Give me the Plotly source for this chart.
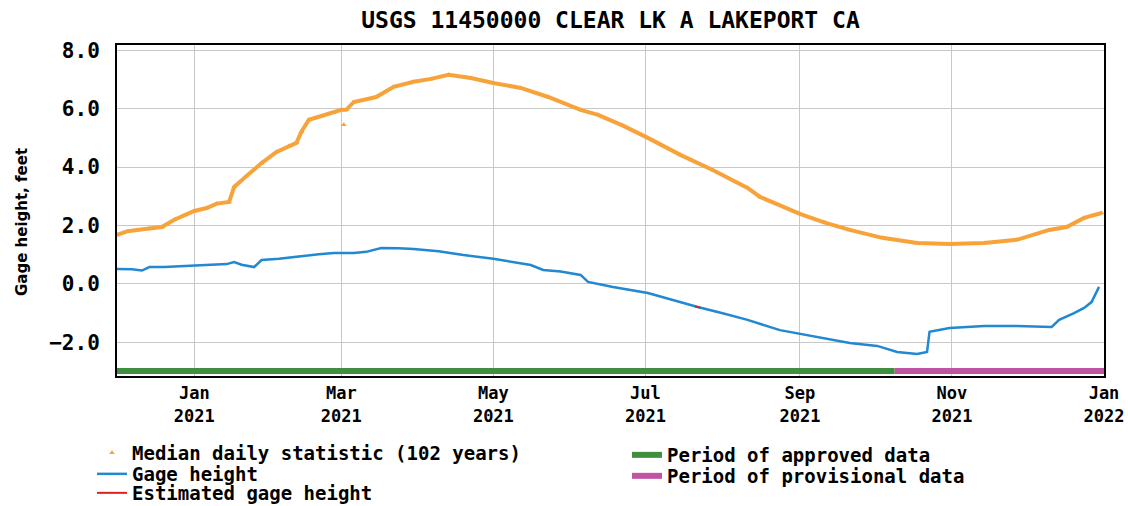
import plotly.graph_objects as go

median_dates = ["2020-12-01","2020-12-05","2020-12-09","2020-12-14","2020-12-19","2020-12-24","2020-12-28",
    "2021-01-01","2021-01-06","2021-01-10","2021-01-15","2021-01-17","2021-01-22","2021-01-28","2021-02-03",
    "2021-02-08","2021-02-11","2021-02-13","2021-02-16","2021-02-21","2021-02-26","2021-03-01","2021-03-02",
    "2021-03-03","2021-03-06","2021-03-15","2021-03-22","2021-03-30","2021-04-06","2021-04-13","2021-04-22",
    "2021-05-01","2021-05-12","2021-05-23","2021-06-05","2021-06-12","2021-06-22","2021-07-02","2021-07-15",
    "2021-07-28","2021-08-11","2021-08-16","2021-09-01","2021-09-11","2021-09-21","2021-10-04","2021-10-18",
    "2021-10-31","2021-11-14","2021-11-27","2021-12-10","2021-12-17","2021-12-24","2021-12-31"]
median_vals = [1.68,1.80,1.85,1.90,1.95,2.20,2.35,
    2.50,2.60,2.75,2.81,3.32,3.70,4.14,4.52,
    4.72,4.83,5.21,5.62,5.75,5.86,5.96,5.45,
    5.96,6.23,6.40,6.75,6.92,7.02,7.16,7.05,
    6.88,6.71,6.40,5.96,5.79,5.42,5.00,4.42,
    3.90,3.29,2.98,2.40,2.10,1.85,1.58,1.40,
    1.37,1.40,1.51,1.85,1.95,2.26,2.43]
median_outlier_date = "2021-03-02"

gage_dates = ["2020-12-01","2020-12-07","2020-12-11","2020-12-14","2020-12-20","2020-12-26","2021-01-01",
    "2021-01-08","2021-01-14","2021-01-17","2021-01-20","2021-01-25","2021-01-28","2021-02-04","2021-02-13",
    "2021-02-20","2021-02-26","2021-03-06","2021-03-11","2021-03-17","2021-03-24","2021-03-30","2021-04-09",
    "2021-04-19","2021-05-01","2021-05-09","2021-05-16","2021-05-21","2021-05-28","2021-06-05","2021-06-08",
    "2021-06-18","2021-07-02","2021-07-12","2021-07-22","2021-08-01","2021-08-11","2021-08-24","2021-09-01",
    "2021-09-11","2021-09-21","2021-10-02","2021-10-10","2021-10-18","2021-10-22","2021-10-23","2021-10-31",
    "2021-11-14","2021-11-27","2021-12-11","2021-12-14","2021-12-20","2021-12-24","2021-12-27","2021-12-30"]
gage_vals = [0.51,0.50,0.46,0.58,0.58,0.60,0.62,
    0.66,0.68,0.75,0.66,0.58,0.82,0.86,0.96,
    1.02,1.06,1.06,1.10,1.23,1.22,1.20,1.12,
    0.99,0.86,0.76,0.65,0.48,0.43,0.31,0.07,
    -0.10,-0.31,-0.55,-0.79,-1.00,-1.23,-1.58,-1.71,
    -1.88,-2.02,-2.12,-2.33,-2.40,-2.33,-1.64,-1.51,
    -1.44,-1.44,-1.47,-1.23,-1.00,-0.82,-0.62,-0.10]

est_dates = ["2021-07-21","2021-07-23"]
est_vals = [-0.77,-0.81]

approved_period = ["2020-11-29","2021-10-09"]
provisional_period = ["2021-10-09","2022-01-01"]
period_level = -2.98

tick_dates = ["2021-01-01","2021-03-01","2021-05-01","2021-07-01","2021-09-01","2021-11-01","2022-01-01"]
tick_text = ["Jan<br>2021","Mar<br>2021","May<br>2021","Jul<br>2021","Sep<br>2021","Nov<br>2021","Jan<br>2022"]
y_ticks = [-2, 0, 2, 4, 6, 8]

ORANGE = "#f7a33a"
BLUE = "#2188d2"
RED = "#e02020"
GREEN = "#3f8f3f"
PURPLE = "#c054a4"
MONO = "DejaVu Sans Mono"

line_dates = [d for d in median_dates if d != median_outlier_date]
line_vals = [v for d, v in zip(median_dates, median_vals) if d != median_outlier_date]

fig = go.Figure()
fig.add_trace(go.Scatter(x=line_dates, y=line_vals, mode="lines", line=dict(color=ORANGE, width=4),
                         showlegend=False, hoverinfo="skip"))
fig.add_trace(go.Scatter(x=median_dates, y=median_vals, mode="markers",
                         marker=dict(symbol="triangle-up", size=5, color=ORANGE),
                         name="Median daily statistic (102 years)", legend="legend"))
fig.add_trace(go.Scatter(x=gage_dates, y=gage_vals, mode="lines", line=dict(color=BLUE, width=2.5),
                         name="Gage height", legend="legend2"))
fig.add_trace(go.Scatter(x=est_dates, y=est_vals, mode="lines", line=dict(color=RED, width=2),
                         name="Estimated gage height", legend="legend3"))
fig.add_trace(go.Scatter(x=approved_period, y=[period_level]*2, mode="lines",
                         line=dict(color=GREEN, width=6), name="Period of approved data", legend="legend4"))
fig.add_trace(go.Scatter(x=provisional_period, y=[period_level]*2, mode="lines",
                         line=dict(color=PURPLE, width=6), name="Period of provisional data", legend="legend5"))

legend_font = dict(family=MONO, size=19, color="black", weight="bold")

def leg(xpx, ypx):
    return dict(x=xpx / 1128, y=1 - ypx / 506, xref="container", yref="container",
                xanchor="left", yanchor="middle", font=legend_font,
                bgcolor="rgba(0,0,0,0)", itemwidth=30)

fig.update_layout(
    width=1128, height=506,
    margin=dict(l=117, r=24, t=45, b=130, autoexpand=False),
    paper_bgcolor="white", plot_bgcolor="white",
    title=dict(text="USGS 11450000 CLEAR LK A LAKEPORT CA", x=0.5, xref="paper", xanchor="center",
               y=0.96, yanchor="middle",
               font=dict(family=MONO, size=23, color="black", weight="bold")),
    legend=leg(92, 453), legend2=leg(92, 474), legend3=leg(92, 493),
    legend4=leg(627, 455), legend5=leg(627, 476),
    xaxis=dict(type="date", range=["2020-12-01", "2022-01-01"], tickvals=tick_dates, ticktext=tick_text,
               showgrid=True, gridcolor="#c8c8c8", gridwidth=1, showline=True, linecolor="black", linewidth=2,
               mirror=True, ticks="", automargin=False, ticklabelstandoff=1,
               tickfont=dict(family=MONO, size=17, color="black", weight="bold"), zeroline=False),
    yaxis=dict(range=[-3.15, 8.18], tickvals=y_ticks, tickformat=".1f", automargin=False,
               showgrid=True, gridcolor="#c8c8c8", gridwidth=1, showline=True, linecolor="black", linewidth=2,
               mirror=True, ticks="", ticklabelstandoff=11,
               tickfont=dict(family=MONO, size=21, color="black", weight="bold"), zeroline=False),
    annotations=[dict(text="Gage height, feet", xref="paper", yref="paper", x=-0.0963, y=0.465,
                      xanchor="center", yanchor="middle", textangle=-90, showarrow=False,
                      font=dict(family="DejaVu Sans", size=15, color="black", weight="bold"))],
)
fig.write_html("out.html", config={"displayModeBar": False},
               post_script="document.body.style.margin='0';document.body.style.overflow='hidden';")
